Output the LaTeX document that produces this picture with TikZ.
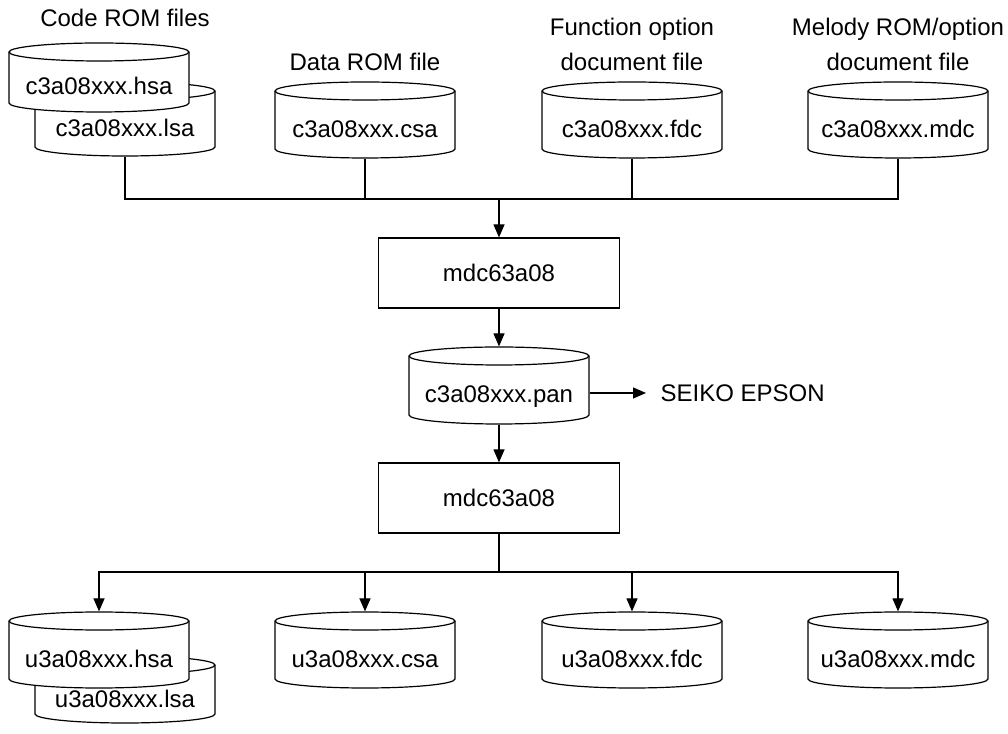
\documentclass[tikz,border=0pt]{standalone}
\usepackage{fontspec}
\setmainfont{Liberation Sans}
\usetikzlibrary{arrows.meta}

\newcommand{\filedrum}[5]{%
  \filldraw[fill=white] (#2-90,#3-9) -- (#2-90,#3-#4+9)
    arc[start angle=180,end angle=360,x radius=90,y radius=9]
    -- (#2+90,#3-9) arc[start angle=0,end angle=180,x radius=90,y radius=9] -- cycle;
  \draw (#2-90,#3-9) arc[start angle=180,end angle=360,x radius=90,y radius=9];
  \node[filebox,minimum height=#4pt] (#1) at (#2,#3-#4/2) {#5};
}

\begin{document}
\begin{tikzpicture}[
		x=1pt,y=1pt,
		line width=1.2pt,
		every node/.style={font=\fontsize{24}{35}\selectfont},
		filebox/.style={rectangle,minimum width=180pt,inner sep=0pt,text height=38pt,text depth=3pt},
		progbox/.style={rectangle,draw,minimum width=241pt,minimum height=70pt},
		caption/.style={align=center,inner sep=0pt},
		flow/.style={-{Triangle[length=13pt,width=11pt]}}
	]
	\useasboundingbox (0,0) rectangle (1008,733);

	\node[caption] (codelbl) at (125,715) {Code ROM files};
	\node[caption] (datalbl) at (365,671) {Data ROM file};
	\node[caption] (funclbl) at (632,689) {Function option\\document file};
	\node[caption] (melolbl) at (898,689) {Melody ROM/option\\document file};

	\filedrum{lsaIn}{125}{651}{74}{c3a08xxx.lsa}
	\filedrum{hsaIn}{99}{690}{69}{c3a08xxx.hsa}
	\filedrum{csaIn}{365}{651}{76}{c3a08xxx.csa}
	\filedrum{fdcIn}{632}{651}{76}{c3a08xxx.fdc}
	\filedrum{mdcIn}{898}{651}{76}{c3a08xxx.mdc}

	\coordinate (topjoin) at (499,534);
	\node[progbox] (conv1) at (499,460) {mdc63a08};
	\filedrum{pan}{499}{386}{77}{c3a08xxx.pan}
	\node[anchor=west,inner sep=0pt,inner xsep=14pt] (seiko) at (646,340) {SEIKO EPSON};
	\node[progbox] (conv2) at (499,235) {mdc63a08};
	\coordinate (botjoin) at (499,161);

	\filedrum{lsaOut}{125}{77}{67}{u3a08xxx.lsa}
	\filedrum{hsaOut}{99}{121}{76}{u3a08xxx.hsa}
	\filedrum{csaOut}{365}{121}{76}{u3a08xxx.csa}
	\filedrum{fdcOut}{632}{121}{76}{u3a08xxx.fdc}
	\filedrum{mdcOut}{898}{121}{76}{u3a08xxx.mdc}

	\draw (lsaIn.south) |- (topjoin) -| (mdcIn.south);
	\draw (csaIn.south) -- (csaIn.south |- topjoin);
	\draw (fdcIn.south) -- (fdcIn.south |- topjoin);
	\draw[flow] (topjoin) -- (conv1.north);
	\draw[flow] (conv1.south) -- (pan.north);
	\draw[flow] (pan.east |- seiko) -- (seiko.west);
	\draw[flow] (pan.south) -- (conv2.north);
	\draw (conv2.south) -- (botjoin);
	\draw[flow] (botjoin) -| (hsaOut.north);
	\draw[flow] (botjoin) -| (csaOut.north);
	\draw[flow] (botjoin) -| (fdcOut.north);
	\draw[flow] (botjoin) -| (mdcOut.north);
\end{tikzpicture}
\end{document}
